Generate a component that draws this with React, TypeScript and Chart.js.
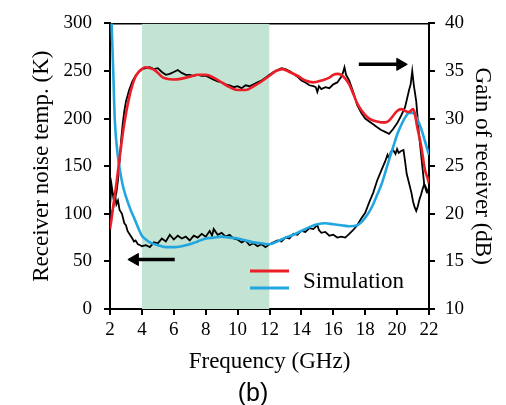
import React, { useEffect, useRef } from 'react';
import { Chart, registerables } from 'chart.js';

Chart.register(...registerables);

const SERIF = '"Liberation Serif", "Times New Roman", serif';
const SANS = '"Liberation Sans", Arial, sans-serif';
const RED = '#ec1e27';
const BLUE = '#22a6e0';
const GREEN = '#c3e3d3';

// ---- axis ticks ----
const xTickValues = [2, 4, 6, 8, 10, 12, 14, 16, 18, 20, 22];
const noiseTickValues = [0, 50, 100, 150, 200, 250, 300];
const gainTickValues = [10, 15, 20, 25, 30, 35, 40];

// ---- shaded band (GHz) ----
const shadeBand = [4, 12];
const shadeTop = [300, 300];

// ---- measured receiver noise temperature (K) ----
const freqNoiseMeas = [2.0, 2.1, 2.2, 2.3, 2.4, 2.5, 2.6, 2.75, 2.9, 3.0, 3.1, 3.25, 3.4, 3.5, 3.6, 3.75, 3.9, 4.0, 4.25, 4.5, 4.75, 5.0, 5.25, 5.5, 5.75, 6.0, 6.25, 6.5, 6.75, 7.0, 7.25, 7.5, 7.75, 8.0, 8.25, 8.4, 8.5, 8.75, 9.0, 9.25, 9.5, 9.75, 10.0, 10.25, 10.5, 10.75, 11.0, 11.25, 11.5, 11.75, 12.0, 12.25, 12.5, 12.75, 13.0, 13.25, 13.5, 13.75, 14.0, 14.25, 14.5, 14.75, 15.0, 15.1, 15.25, 15.5, 15.75, 16.0, 16.25, 16.5, 16.75, 17.0, 17.25, 17.5, 17.75, 18.0, 18.25, 18.5, 18.75, 19.0, 19.25, 19.4, 19.5, 19.6, 19.75, 19.9, 20.0, 20.1, 20.25, 20.4, 20.5, 20.6, 20.75, 20.9, 21.0, 21.1, 21.2, 21.3, 21.4, 21.5, 21.6, 21.7, 21.8, 21.9, 22.0];
const noiseMeas = [108, 130, 118, 122, 110, 114, 104, 100, 90, 88, 82, 78, 74, 71, 72, 68, 67, 66, 67, 65, 70, 69, 74, 71, 78, 73, 77, 74, 76, 72, 77, 75, 79, 76, 82, 77, 84, 78, 80, 76, 78, 74, 73, 70, 72, 67, 69, 66, 68, 65, 68, 70, 72, 71, 75, 74, 79, 78, 82, 81, 85, 84, 88, 83, 80, 81, 77, 78, 75, 76, 75, 79, 83, 88, 95, 101, 112, 122, 135, 145, 155, 162, 158, 165, 167, 163, 168, 164, 166, 167, 155, 142, 132, 122, 113, 107, 103, 108, 115, 120, 126, 131, 128, 124, 120];

// ---- simulated receiver noise temperature (K) ----
const freqNoiseSim = [2.0, 2.1, 2.2, 2.3, 2.45, 2.6, 2.8, 3.0, 3.25, 3.5, 3.75, 4.0, 4.25, 4.5, 5.0, 5.5, 6.0, 6.5, 7.0, 7.5, 8.0, 8.5, 9.0, 9.5, 10.0, 10.5, 11.0, 11.5, 12.0, 12.5, 13.0, 13.5, 14.0, 14.5, 15.0, 15.5, 16.0, 16.5, 17.0, 17.5, 17.75, 18.0, 18.25, 18.5, 18.75, 19.0, 19.25, 19.5, 19.75, 20.0, 20.25, 20.5, 20.75, 21.0, 21.25, 21.5, 21.75, 22.0];
const noiseSim = [350, 300, 251, 199, 167, 148, 130, 118, 106, 96, 86, 77, 73, 70, 67, 65, 65, 66, 68, 71, 74, 75, 76, 75, 74, 72, 70, 69, 68, 71, 75, 78, 82, 86, 89, 90, 89, 88, 87, 88, 91, 96, 102, 110, 120, 130, 143, 157, 170, 183, 193, 201, 206, 206, 200, 190, 176, 162];

// ---- measured gain (dB) ----
const freqGainMeas = [2.0, 2.1, 2.2, 2.3, 2.4, 2.5, 2.6, 2.7, 2.8, 2.9, 3.0, 3.2, 3.4, 3.6, 3.8, 4.0, 4.25, 4.5, 4.75, 5.0, 5.25, 5.5, 5.75, 6.0, 6.25, 6.5, 6.75, 7.0, 7.25, 7.5, 7.75, 8.0, 8.25, 8.5, 8.75, 9.0, 9.25, 9.5, 9.75, 10.0, 10.25, 10.5, 10.75, 11.0, 11.25, 11.5, 11.75, 12.0, 12.25, 12.5, 12.75, 13.0, 13.25, 13.5, 13.75, 14.0, 14.25, 14.5, 14.75, 14.9, 15.0, 15.1, 15.25, 15.5, 15.75, 16.0, 16.25, 16.5, 16.6, 16.7, 16.8, 17.0, 17.25, 17.5, 17.75, 18.0, 18.25, 18.5, 18.75, 19.0, 19.25, 19.5, 19.75, 20.0, 20.25, 20.5, 20.75, 20.85, 20.95, 21.05, 21.2, 21.375, 21.55, 21.7, 21.85, 22.0];
const gainMeas = [19.0, 20.0, 20.6, 21.5, 22.2, 23.5, 25.5, 27.8, 29.5, 30.8, 31.8, 33.0, 33.9, 34.5, 34.9, 35.2, 35.3, 35.4, 35.2, 35.3, 34.9, 34.6, 34.7, 34.9, 35.1, 34.8, 34.6, 34.6, 34.5, 34.6, 34.5, 34.5, 34.3, 34.1, 33.9, 33.8, 33.6, 33.5, 33.3, 33.4, 33.2, 33.5, 33.4, 33.6, 33.8, 34.0, 34.3, 34.6, 34.9, 35.1, 35.3, 35.2, 35.0, 34.7, 34.4, 34.0, 33.8, 33.5, 33.4, 33.3, 32.8, 33.4, 33.1, 33.3, 33.2, 33.6, 33.8, 34.4, 34.8, 35.4, 34.6, 34.0, 32.8, 31.4, 30.6, 30.0, 29.7, 29.4, 29.1, 28.8, 28.6, 28.4, 28.9, 29.5, 30.3, 31.2, 33.0, 33.6, 35.0, 33.5, 31.8, 28.3, 25.5, 23.1, 22.3, 22.6];

// ---- simulated gain (dB) ----
const freqGainSim = [2.0, 2.1, 2.2, 2.35, 2.5, 2.65, 2.8, 3.0, 3.2, 3.4, 3.6, 3.8, 4.0, 4.2, 4.5, 4.8, 5.0, 5.25, 5.5, 6.0, 6.5, 7.0, 7.5, 8.0, 8.5, 9.0, 9.5, 10.0, 10.5, 11.0, 11.5, 12.0, 12.4, 12.8, 13.25, 13.75, 14.25, 14.75, 15.25, 15.75, 16.0, 16.25, 16.5, 16.75, 17.0, 17.25, 17.5, 17.75, 18.0, 18.25, 18.5, 18.75, 19.0, 19.25, 19.5, 19.75, 20.0, 20.25, 20.5, 20.75, 21.0, 21.1, 21.25, 21.5, 21.75, 21.9, 22.0];
const gainSim = [18.4, 19.5, 20.8, 22.5, 24.5, 26.5, 28.4, 30.5, 32.2, 33.5, 34.4, 34.9, 35.2, 35.4, 35.3, 35.1, 34.8, 34.4, 34.2, 34.1, 34.2, 34.4, 34.6, 34.6, 34.3, 33.8, 33.3, 33.0, 33.0, 33.4, 33.9, 34.5, 35.0, 35.2, 34.9, 34.5, 34.0, 33.8, 34.0, 34.3, 34.6, 34.7, 34.6, 34.2, 33.6, 32.6, 31.6, 30.9, 30.4, 30.0, 29.8, 29.7, 29.6, 29.6, 29.8, 30.3, 30.8, 31.0, 30.8, 30.7, 31.0, 30.6, 29.2, 27.2, 24.6, 23.8, 23.2];

// ---- arrows (shaft start -> head) ----
const arrowNoiseX = [6.06, 3.56];
const arrowNoiseY = [52, 52];
const arrowGainX = [17.6, 20.2];
const arrowGainY = [35.7, 35.7];

const legendLabel = 'Simulation';

const pts = (xs: number[], ys: number[]) => xs.map((x, i) => ({ x, y: ys[i] }));

export default function App() {
  const ref = useRef<HTMLCanvasElement>(null);

  useEffect(() => {
    document.body.style.margin = '0';
    const canvas = ref.current;
    if (!canvas) return;

    const legendPlugin = {
      id: 'simLegend',
      afterDatasetsDraw(chart: any) {
        const ctx = chart.ctx as CanvasRenderingContext2D;
        ctx.save();
        ctx.lineWidth = 3;
        ctx.lineCap = 'butt';
        ctx.strokeStyle = RED;
        ctx.beginPath();
        ctx.moveTo(250, 271);
        ctx.lineTo(289, 271);
        ctx.stroke();
        ctx.strokeStyle = BLUE;
        ctx.beginPath();
        ctx.moveTo(250, 288);
        ctx.lineTo(289, 288);
        ctx.stroke();
        ctx.fillStyle = '#000';
        ctx.font = `23px ${SERIF}`;
        ctx.textBaseline = 'alphabetic';
        ctx.textAlign = 'left';
        ctx.fillText(legendLabel, 303, 288);
        ctx.restore();
      },
    };

    const axisCommon = (ticks: number[]) => ({
      afterBuildTicks: (s: any) => {
        s.ticks = ticks.map((v) => ({ value: v }));
      },
    });

    const tickFont = { family: SERIF, size: 19 };
    const titleFont = { family: SERIF, size: 23, lineHeight: 1.2 };

    const chart = new Chart(canvas, {
      type: 'line',
      data: {
        datasets: [
          {
            label: 'Gain sim',
            data: pts(freqGainSim, gainSim),
            yAxisID: 'y2',
            borderColor: RED,
            borderWidth: 2.6,
            pointRadius: 0,
            cubicInterpolationMode: 'monotone',
            order: 0,
          },
          {
            label: 'Noise sim',
            data: pts(freqNoiseSim, noiseSim),
            yAxisID: 'y',
            borderColor: BLUE,
            borderWidth: 2.6,
            pointRadius: 0,
            cubicInterpolationMode: 'monotone',
            order: 1,
          },
          {
            label: 'Gain meas',
            data: pts(freqGainMeas, gainMeas),
            yAxisID: 'y2',
            borderColor: '#000',
            borderWidth: 1.8,
            pointRadius: 0,
            tension: 0,
            order: 2,
          },
          {
            label: 'Noise meas',
            data: pts(freqNoiseMeas, noiseMeas),
            yAxisID: 'y',
            borderColor: '#000',
            borderWidth: 1.8,
            pointRadius: 0,
            tension: 0,
            order: 3,
          },
          {
            label: 'arrow noise',
            data: pts(arrowNoiseX, arrowNoiseY),
            yAxisID: 'y',
            borderColor: '#000',
            borderWidth: 3.5,
            pointRadius: [0, 7],
            pointStyle: 'triangle',
            pointRotation: [0, -90],
            pointBackgroundColor: '#000',
            pointBorderColor: '#000',
            pointBorderWidth: 1,
            order: 4,
          },
          {
            label: 'arrow gain',
            data: pts(arrowGainX, arrowGainY),
            yAxisID: 'y2',
            borderColor: '#000',
            borderWidth: 3.5,
            pointRadius: [0, 7],
            pointStyle: 'triangle',
            pointRotation: [0, 90],
            pointBackgroundColor: '#000',
            pointBorderColor: '#000',
            pointBorderWidth: 1,
            order: 4,
          },
          {
            label: 'band',
            data: pts(shadeBand, shadeTop),
            yAxisID: 'y',
            borderWidth: 0,
            borderColor: 'rgba(0,0,0,0)',
            backgroundColor: GREEN,
            fill: 'start',
            pointRadius: 0,
            order: 10,
          },
        ],
      },
      options: {
        responsive: false,
        animation: false,
        devicePixelRatio: 1,
        events: [],
        layout: { padding: { top: 20, left: 0, right: 0, bottom: 0 } },
        plugins: {
          legend: { display: false },
          tooltip: { enabled: false },
          title: {
            display: true,
            position: 'bottom',
            text: '(b)',
            color: '#000',
            font: { family: SANS, size: 25, weight: 'normal', lineHeight: '22px' },
            padding: 0,
          },
        },
        scales: {
          x: {
            type: 'linear',
            position: 'bottom',
            min: 2,
            max: 22,
            ...axisCommon(xTickValues),
            afterFit: (s: any) => {
              s.height = 74;
            },
            ticks: { font: tickFont, color: '#000', padding: 4, maxRotation: 0, autoSkip: false },
            grid: { drawOnChartArea: false, drawTicks: true, tickLength: 6, color: '#000', lineWidth: 2 },
            border: { display: true, color: '#000', width: 2 },
            title: {
              display: true,
              text: 'Frequency (GHz)',
              color: '#000',
              font: titleFont,
              padding: { top: 0, bottom: 7 },
            },
          },
          x2: {
            type: 'linear',
            position: 'top',
            min: 2,
            max: 22,
            afterFit: (s: any) => {
              s.height = 0;
            },
            ticks: { display: false },
            grid: { drawOnChartArea: false, drawTicks: false, color: '#000', lineWidth: 1.5 },
            border: { display: true, color: '#000', width: 1.5 },
          },
          y: {
            type: 'linear',
            position: 'left',
            min: 0,
            max: 300,
            ...axisCommon(noiseTickValues),
            afterFit: (s: any) => {
              s.width = 110;
            },
            ticks: { font: tickFont, color: '#000', padding: 12 },
            grid: { drawOnChartArea: false, drawTicks: true, tickLength: 6, color: '#000', lineWidth: 2 },
            border: { display: true, color: '#000', width: 2 },
            title: {
              display: true,
              text: 'Receiver noise temp. (K)',
              color: '#000',
              font: titleFont,
              padding: { top: 28, bottom: 0 },
            },
          },
          y2: {
            type: 'linear',
            position: 'right',
            min: 10,
            max: 40,
            ...axisCommon(gainTickValues),
            afterFit: (s: any) => {
              s.width = 77;
            },
            ticks: { font: tickFont, color: '#000', padding: 10 },
            grid: { drawOnChartArea: false, drawTicks: true, tickLength: 6, color: '#000', lineWidth: 2 },
            border: { display: true, color: '#000', width: 2 },
            title: {
              display: true,
              text: 'Gain of receiver (dB)',
              color: '#000',
              font: titleFont,
              padding: { top: 10, bottom: 0 },
            },
          },
        },
      } as any,
      plugins: [legendPlugin],
    });

    return () => chart.destroy();
  }, []);

  return (
    <div style={{ width: 506, height: 405 }}>
      <canvas ref={ref} width={506} height={405} style={{ display: 'block' }} />
    </div>
  );
}
